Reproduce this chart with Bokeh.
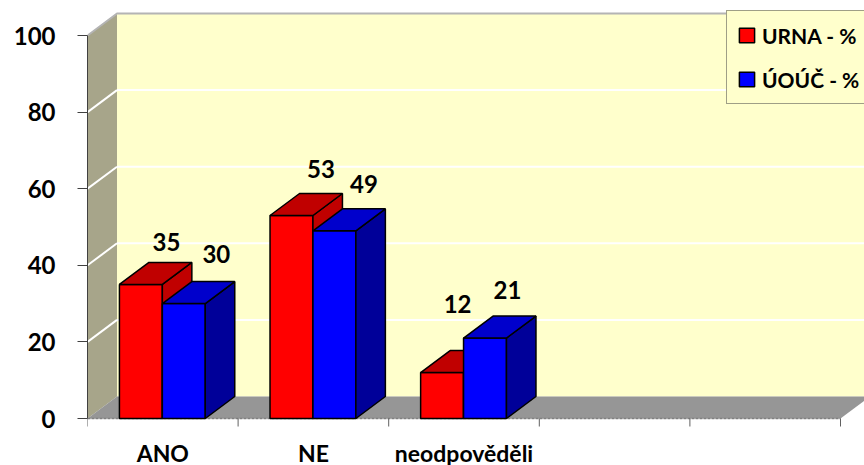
from bokeh.plotting import figure
from bokeh.models import Range1d, FixedTicker, Legend, LegendItem, ColumnDataSource
from bokeh.core.properties import value
from bokeh.embed import file_html
from bokeh.resources import INLINE

# ---- data -------------------------------------------------------------
categories = ["ANO", "NE", "neodpověděli"]
urna = [35, 53, 12]
uouc = [30, 49, 21]
series_names = ["URNA - %", "ÚOÚČ - %"]
y_ticks = [0, 20, 40, 60, 80, 100]
n_slots = 5          # category slots on the axis (two stay empty)

# ---- styling / geometry ------------------------------------------------
FONT = "Lato"
RED, RED_DARK = "#FF0000", "#C00000"
BLUE, BLUE_TOP, BLUE_SIDE = "#0000FF", "#0000CC", "#000099"
WALL, SIDE_WALL, FLOOR = "#FFFFCC", "#A7A58A", "#969696"

SLOT_PX = 150.6      # pixels per category slot
UNIT_PX = 3.83       # pixels per percent
DX = 29.5 / SLOT_PX  # depth offset of the 3-D boxes, x direction
DY = 22.0 / UNIT_PX  # depth offset of the 3-D boxes, y direction
BAR_EDGES = (0.212, 0.497, 0.782)  # left of red, shared edge, right of blue
X_END = 777 / SLOT_PX
Y_START = -47 / UNIT_PX            # room below the floor for category names
Y_END = 418 / UNIT_PX
CAT_LABEL_Y = -34 / UNIT_PX        # anchor of the category names
TICK_LEN = 8 / UNIT_PX             # boundary ticks under the category axis

# small pixel adjustments of the value labels (dx, dy)
label_shift = {("URNA", 0): (-4, 5), ("UOUC", 0): (3, -3),
               ("URNA", 2): (-14, -22), ("UOUC", 2): (-7, -1)}

p = figure(width=864, height=465, output_backend="svg", toolbar_location=None,
           x_range=Range1d(0, X_END), y_range=Range1d(Y_START, Y_END),
           min_border_left=87, min_border_right=0, min_border_top=0,
           min_border_bottom=0)
p.outline_line_color = None
p.xgrid.visible = False
p.ygrid.visible = False
p.xaxis.visible = False
p.background_fill_color = "white"
p.border_fill_color = "white"

# ---- walls and floor ---------------------------------------------------
top = y_ticks[-1]
p.patch([DX, X_END, X_END, DX], [DY, DY, top + DY, top + DY],
        fill_color=WALL, line_color=None)
p.patch([0, DX, DX, 0], [0, DY, top + DY, top], fill_color=SIDE_WALL,
        line_color=None)
p.patch([0, n_slots, n_slots + DX, DX], [0, 0, DY, DY], fill_color=FLOOR,
        line_color=None)

grid_vals = [v for v in y_ticks if 0 < v < top]
p.multi_line([[DX, X_END] for _ in grid_vals], [[v + DY, v + DY] for v in grid_vals],
             line_color="white", line_width=2)
p.multi_line([[0, DX] for _ in grid_vals], [[v, v + DY] for v in grid_vals],
             line_color="white", line_width=2)
p.line([0, DX, X_END], [top, top + DY, top + DY], line_color="#B4B4B4",
       line_width=2)

# ---- category axis (drawn at the floor's front edge) --------------------
bounds = list(range(n_slots + 1))
p.line([0, n_slots], [0, 0], line_color="#808080", line_width=1.5, line_dash="3 1")
p.segment(x0=bounds, y0=[0] * len(bounds), x1=bounds, y1=[-TICK_LEN] * len(bounds),
          line_color="#606060", line_width=1)
p.text(x=[i + 0.5 for i in range(len(categories))], y=[CAT_LABEL_Y] * len(categories),
       text=categories, text_font=value(FONT), text_font_style="bold",
       text_font_size="23px", text_align="center", text_baseline="alphabetic",
       text_color="black")

# ---- 3-D bars -----------------------------------------------------------
def faces(x0, x1, h):
    front = ([x0, x1, x1, x0], [0, 0, h, h])
    side = ([x1, x1 + DX, x1 + DX, x1], [0, DY, h + DY, h])
    roof = ([x0, x1, x1 + DX, x0 + DX], [h, h, h + DY, h + DY])
    return front, side, roof


series = [("URNA", urna, BAR_EDGES[0], BAR_EDGES[1], (RED, RED_DARK, RED_DARK)),
          ("UOUC", uouc, BAR_EDGES[1], BAR_EDGES[2], (BLUE, BLUE_SIDE, BLUE_TOP))]

front_renderers = []
lab_x, lab_y, lab_t, lab_dx, lab_dy = [], [], [], [], []
for key, vals, a, b, colors in series:
    groups = [([], []), ([], []), ([], [])]
    for i, v in enumerate(vals):
        for g, (xs, ys) in zip(groups, faces(i + a, i + b, v)):
            g[0].append(xs)
            g[1].append(ys)
        lab_x.append(i + (a + b) / 2 + DX)
        lab_y.append(v + DY)
        lab_t.append(str(v))
        sx, sy = label_shift.get((key, i), (0, 0))
        lab_dx.append(sx)
        lab_dy.append(-25 + sy)
    for k, ((xs, ys), c) in enumerate(zip(groups, colors)):
        r = p.patches(xs, ys, fill_color=c, line_color="black", line_width=1.5)
        if k == 0:
            front_renderers.append(r)

p.text(x="x", y="y", text="t", x_offset="dx", y_offset="dy",
       source=ColumnDataSource(dict(x=lab_x, y=lab_y, t=lab_t, dx=lab_dx, dy=lab_dy)),
       text_font=value(FONT), text_font_style="bold", text_font_size="24px",
       text_align="center", text_baseline="alphabetic", text_color="black")

# ---- value axis ----------------------------------------------------------
yax = p.yaxis[0]
yax.ticker = FixedTicker(ticks=y_ticks)
yax.bounds = (y_ticks[0], y_ticks[-1])
yax.major_tick_out = 10
yax.major_tick_in = 0
yax.minor_tick_out = 0
yax.minor_tick_in = 0
yax.axis_line_color = "#404040"
yax.major_tick_line_color = "#404040"
yax.major_label_standoff = 22
yax.major_label_text_font = FONT
yax.major_label_text_font_style = "bold"
yax.major_label_text_font_size = "24px"
yax.major_label_text_color = "black"

# ---- legend ------------------------------------------------------------
legend = Legend(items=[LegendItem(label=series_names[0], renderers=[front_renderers[0]], index=0),
                       LegendItem(label=series_names[1], renderers=[front_renderers[1]], index=0)],
                location=(639, 361), glyph_width=19, glyph_height=18,
                label_height=28, label_standoff=6, padding=10, spacing=16, margin=0,
                border_line_color="#404040", border_line_width=1,
                background_fill_color=WALL, background_fill_alpha=1,
                label_text_font=FONT, label_text_font_style="bold",
                label_text_font_size="21px", label_text_color="black")
p.add_layout(legend)

open("out.html", "w").write(file_html(p, INLINE))
